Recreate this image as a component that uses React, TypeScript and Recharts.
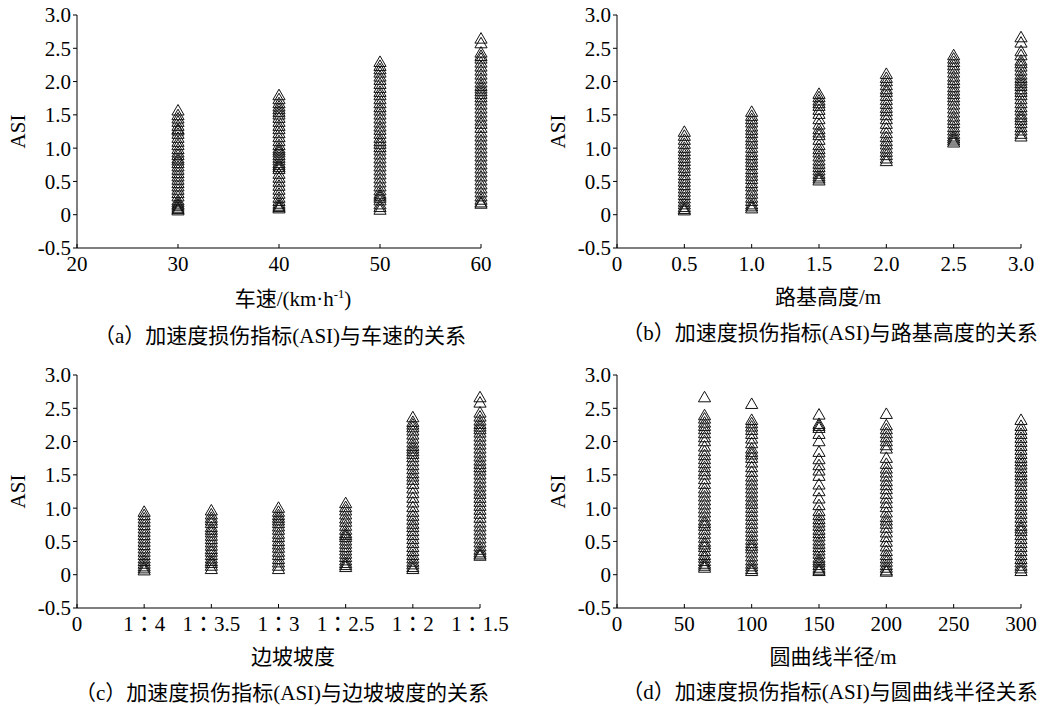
import { Scatter, ScatterChart, XAxis, YAxis, ZAxis } from 'recharts'

const FONT = '"Liberation Serif", "Times New Roman", "Noto Sans CJK SC", serif'
// TC/JP glyphs centre the full-width colon, as in the 1：4 style tick labels
const TICK_FONT = '"Liberation Serif", "Times New Roman", "Noto Sans CJK TC", serif'

const asiTicks = [-0.5, 0, 0.5, 1, 1.5, 2, 2.5, 3]

// (a) 车速
const speeds = [30, 40, 50, 60]
const speedTicks = [20, 30, 40, 50, 60]
const asiBySpeed = [
  [1.55, 1.48, 1.43, 1.38, 1.32, 1.27, 1.25, 1.2, 1.14, 1.08, 1.03, 0.97, 0.92, 0.88, 0.83, 0.8, 0.76, 0.71, 0.66, 0.61, 0.56, 0.51, 0.46, 0.41, 0.36, 0.31, 0.26, 0.2, 0.17, 0.14, 0.12, 0.09, 0.07, 0.05],
  [1.78, 1.72, 1.66, 1.61, 1.57, 1.53, 1.49, 1.44, 1.38, 1.32, 1.27, 1.21, 1.15, 1.09, 1.03, 0.98, 0.95, 0.92, 0.88, 0.84, 0.8, 0.76, 0.73, 0.7, 0.67, 0.6, 0.54, 0.48, 0.42, 0.36, 0.3, 0.24, 0.19, 0.15, 0.12, 0.1, 0.08],
  [2.28, 2.22, 2.17, 2.12, 2.06, 2.01, 1.95, 1.89, 1.83, 1.78, 1.72, 1.66, 1.6, 1.55, 1.49, 1.43, 1.37, 1.31, 1.26, 1.2, 1.14, 1.09, 1.05, 1.0, 0.95, 0.89, 0.83, 0.77, 0.71, 0.65, 0.59, 0.53, 0.47, 0.41, 0.35, 0.3, 0.27, 0.24, 0.2, 0.14, 0.1, 0.06],
  [2.63, 2.56, 2.42, 2.37, 2.33, 2.27, 2.21, 2.15, 2.09, 2.03, 1.97, 1.92, 1.88, 1.84, 1.8, 1.75, 1.7, 1.64, 1.58, 1.52, 1.46, 1.4, 1.35, 1.29, 1.22, 1.16, 1.1, 1.04, 0.98, 0.92, 0.86, 0.8, 0.74, 0.68, 0.62, 0.56, 0.5, 0.44, 0.38, 0.32, 0.26, 0.21, 0.17, 0.15],
]

// (b) 路基高度
const heights = [0.5, 1, 1.5, 2, 2.5, 3]
const heightTicks = [0, 0.5, 1, 1.5, 2, 2.5, 3]
const asiByHeight = [
  [1.23, 1.17, 1.11, 1.05, 0.99, 0.94, 0.89, 0.84, 0.79, 0.74, 0.69, 0.64, 0.58, 0.53, 0.48, 0.43, 0.38, 0.33, 0.28, 0.23, 0.18, 0.14, 0.1, 0.07, 0.05],
  [1.53, 1.47, 1.42, 1.37, 1.31, 1.26, 1.21, 1.15, 1.1, 1.05, 0.99, 0.93, 0.88, 0.83, 0.78, 0.73, 0.67, 0.62, 0.57, 0.52, 0.46, 0.41, 0.35, 0.3, 0.24, 0.19, 0.14, 0.11, 0.08],
  [1.8, 1.75, 1.7, 1.66, 1.62, 1.56, 1.5, 1.42, 1.34, 1.27, 1.22, 1.18, 1.11, 1.03, 0.97, 0.92, 0.86, 0.8, 0.75, 0.7, 0.65, 0.6, 0.56, 0.53, 0.5],
  [2.1, 2.04, 1.99, 1.93, 1.87, 1.83, 1.77, 1.71, 1.65, 1.59, 1.54, 1.48, 1.42, 1.35, 1.28, 1.21, 1.15, 1.09, 1.04, 0.98, 0.93, 0.88, 0.83, 0.79],
  [2.38, 2.33, 2.28, 2.23, 2.18, 2.12, 2.06, 2.01, 1.96, 1.9, 1.85, 1.8, 1.75, 1.7, 1.64, 1.58, 1.52, 1.46, 1.41, 1.36, 1.3, 1.25, 1.2, 1.16, 1.13, 1.1, 1.07],
  [2.65, 2.57, 2.44, 2.38, 2.3, 2.26, 2.21, 2.15, 2.09, 2.04, 2.0, 1.96, 1.92, 1.87, 1.83, 1.78, 1.72, 1.66, 1.6, 1.55, 1.49, 1.45, 1.41, 1.36, 1.3, 1.25, 1.2, 1.16],
]

// (c) 边坡坡度 (plotted at positions 1..6)
const slopes = ['1：4', '1：3.5', '1：3', '1：2.5', '1：2', '1：1.5']
const slopeTicks = [0, 1, 2, 3, 4, 5, 6]
const asiBySlope = [
  [0.93, 0.88, 0.83, 0.78, 0.73, 0.68, 0.63, 0.58, 0.53, 0.48, 0.43, 0.38, 0.33, 0.28, 0.23, 0.19, 0.15, 0.11, 0.08, 0.05],
  [0.95, 0.89, 0.84, 0.8, 0.76, 0.7, 0.66, 0.62, 0.57, 0.52, 0.47, 0.42, 0.37, 0.33, 0.28, 0.23, 0.19, 0.16, 0.12, 0.07],
  [0.99, 0.93, 0.88, 0.84, 0.8, 0.76, 0.71, 0.66, 0.6, 0.55, 0.49, 0.44, 0.39, 0.33, 0.28, 0.22, 0.17, 0.12, 0.07],
  [1.06, 1.0, 0.95, 0.89, 0.83, 0.78, 0.72, 0.66, 0.61, 0.58, 0.55, 0.5, 0.45, 0.4, 0.35, 0.3, 0.25, 0.2, 0.16, 0.13, 0.1],
  [2.35, 2.28, 2.24, 2.2, 2.15, 2.09, 2.03, 1.97, 1.92, 1.88, 1.84, 1.8, 1.75, 1.69, 1.63, 1.57, 1.51, 1.46, 1.41, 1.35, 1.28, 1.21, 1.14, 1.07, 1.0, 0.93, 0.87, 0.81, 0.75, 0.7, 0.64, 0.58, 0.52, 0.46, 0.4, 0.34, 0.28, 0.23, 0.18, 0.14, 0.1, 0.07],
  [2.65, 2.57, 2.42, 2.36, 2.3, 2.25, 2.21, 2.17, 2.12, 2.06, 2.0, 1.94, 1.88, 1.82, 1.76, 1.7, 1.65, 1.6, 1.55, 1.49, 1.43, 1.37, 1.31, 1.25, 1.2, 1.14, 1.08, 1.02, 0.96, 0.9, 0.84, 0.77, 0.71, 0.65, 0.59, 0.53, 0.47, 0.41, 0.36, 0.32, 0.29, 0.27],
]

// (d) 圆曲线半径
const radii = [65, 100, 150, 200, 300]
const radiusTicks = [0, 50, 100, 150, 200, 250, 300]
const asiByRadius = [
  [2.65, 2.38, 2.33, 2.27, 2.22, 2.17, 2.11, 2.05, 1.99, 1.91, 1.84, 1.78, 1.72, 1.66, 1.6, 1.54, 1.49, 1.42, 1.35, 1.28, 1.22, 1.16, 1.1, 1.04, 0.98, 0.92, 0.86, 0.8, 0.76, 0.72, 0.66, 0.6, 0.54, 0.48, 0.44, 0.4, 0.34, 0.28, 0.24, 0.19, 0.15, 0.12, 0.09],
  [2.55, 2.31, 2.26, 2.21, 2.16, 2.1, 2.03, 1.96, 1.88, 1.83, 1.79, 1.74, 1.67, 1.6, 1.53, 1.46, 1.4, 1.34, 1.28, 1.22, 1.16, 1.1, 1.05, 0.99, 0.93, 0.87, 0.81, 0.75, 0.69, 0.63, 0.57, 0.51, 0.46, 0.42, 0.38, 0.32, 0.26, 0.2, 0.15, 0.11, 0.07, 0.04],
  [2.39, 2.25, 2.22, 2.19, 2.1, 1.99, 1.83, 1.72, 1.63, 1.55, 1.47, 1.34, 1.24, 1.13, 1.03, 0.94, 0.88, 0.82, 0.77, 0.72, 0.66, 0.61, 0.56, 0.5, 0.45, 0.4, 0.35, 0.3, 0.24, 0.2, 0.17, 0.13, 0.09, 0.06, 0.04],
  [2.4, 2.23, 2.17, 2.11, 2.05, 1.99, 1.93, 1.88, 1.74, 1.65, 1.58, 1.52, 1.46, 1.39, 1.33, 1.27, 1.2, 1.13, 1.06, 1.0, 0.92, 0.85, 0.8, 0.75, 0.69, 0.62, 0.55, 0.48, 0.41, 0.34, 0.28, 0.23, 0.18, 0.13, 0.09, 0.05, 0.03],
  [2.31, 2.22, 2.16, 2.1, 2.04, 1.98, 1.92, 1.86, 1.8, 1.74, 1.69, 1.64, 1.59, 1.53, 1.48, 1.43, 1.38, 1.32, 1.26, 1.2, 1.14, 1.08, 1.02, 0.96, 0.9, 0.84, 0.78, 0.72, 0.68, 0.64, 0.58, 0.52, 0.46, 0.4, 0.34, 0.28, 0.22, 0.17, 0.12, 0.08, 0.04],
]

const toPoints = (xs: number[], cols: number[][]) =>
  xs.flatMap((x, i) => cols[i].map((y) => ({ x, y })))

const fmtAsi = (v: number) => (v === 0 ? '0' : v.toFixed(1))

function Centered({ x, y, children }: { x: number; y: number; children: any }) {
  return (
    <div
      style={{
        position: 'absolute',
        left: x,
        top: y,
        transform: 'translate(-50%, -50%)',
        whiteSpace: 'nowrap',
        fontFamily: FONT,
        fontSize: 21,
        lineHeight: 1,
        color: '#000',
      }}
    >
      {children}
    </div>
  )
}

function Panel({
  left,
  top,
  width,
  right,
  data,
  domain,
  ticks,
  fmt,
}: {
  left: number
  top: number
  width: number
  right: number
  data: { x: number; y: number }[]
  domain: [number, number]
  ticks: number[]
  fmt: (v: number) => string
}) {
  const tick = { fill: '#000', fontSize: 21, fontFamily: TICK_FONT }
  return (
    <div style={{ position: 'absolute', left, top }}>
      <ScatterChart width={width} height={290} margin={{ top: 15, right, bottom: 2, left: 0 }}>
        <XAxis
          type="number"
          dataKey="x"
          domain={domain}
          ticks={ticks}
          interval={0}
          tickFormatter={fmt}
          height={40}
          tickSize={-4}
          tickMargin={12}
          axisLine={{ stroke: '#000' }}
          tickLine={{ stroke: '#000' }}
          tick={tick}
        />
        <YAxis
          type="number"
          dataKey="y"
          domain={[-0.5, 3]}
          ticks={asiTicks}
          interval={0}
          tickFormatter={fmtAsi}
          width={77}
          tickSize={4}
          tickMargin={2}
          axisLine={{ stroke: '#000' }}
          tickLine={{ stroke: '#000' }}
          tick={tick}
          label={({ viewBox }: any) => {
            const cx = viewBox.x + 18
            const cy = viewBox.y + viewBox.height / 2
            return (
              <text
                x={cx}
                y={cy}
                transform={`rotate(-90 ${cx} ${cy})`}
                textAnchor="middle"
                dominantBaseline="central"
                fontSize={21}
                fontFamily={FONT}
                fill="#000"
              >
                ASI
              </text>
            )
          }}
        />
        <ZAxis type="number" range={[44, 44]} />
        <Scatter
          data={data}
          shape="triangle"
          fill="none"
          stroke="#111"
          strokeWidth={1}
          isAnimationActive={false}
        />
      </ScatterChart>
    </div>
  )
}

export default function App() {
  return (
    <div style={{ position: 'absolute', left: 0, top: 0, width: 1051, height: 706, background: '#fff' }}>
      <Panel
        left={0}
        top={0}
        width={530}
        right={49}
        data={toPoints(speeds, asiBySpeed)}
        domain={[20, 60]}
        ticks={speedTicks}
        fmt={(v) => String(v)}
      />
      <Panel
        left={540}
        top={0}
        width={511}
        right={30}
        data={toPoints(heights, asiByHeight)}
        domain={[0, 3]}
        ticks={heightTicks}
        fmt={(v) => (v === 0 ? '0' : v.toFixed(1))}
      />
      <Panel
        left={0}
        top={360}
        width={530}
        right={50}
        data={toPoints(
          slopes.map((_, i) => i + 1),
          asiBySlope
        )}
        domain={[0, 6]}
        ticks={slopeTicks}
        fmt={(v) => (v === 0 ? '0' : slopes[v - 1])}
      />
      <Panel
        left={540}
        top={360}
        width={511}
        right={30}
        data={toPoints(radii, asiByRadius)}
        domain={[0, 300]}
        ticks={radiusTicks}
        fmt={(v) => String(v)}
      />

      <Centered x={293} y={299}>
        车速/(km·h<sup style={{ fontSize: '0.6em', verticalAlign: '0.7em' }}>-1</sup>)
      </Centered>
      <Centered x={828} y={297}>路基高度/m</Centered>
      <Centered x={293} y={657}>边坡坡度</Centered>
      <Centered x={833} y={657}>圆曲线半径/m</Centered>

      <Centered x={280} y={336}>（a）加速度损伤指标(ASI)与车速的关系</Centered>
      <Centered x={830} y={333}>（b）加速度损伤指标(ASI)与路基高度的关系</Centered>
      <Centered x={282} y={693}>（c）加速度损伤指标(ASI)与边坡坡度的关系</Centered>
      <Centered x={830} y={692}>（d）加速度损伤指标(ASI)与圆曲线半径关系</Centered>
    </div>
  )
}
